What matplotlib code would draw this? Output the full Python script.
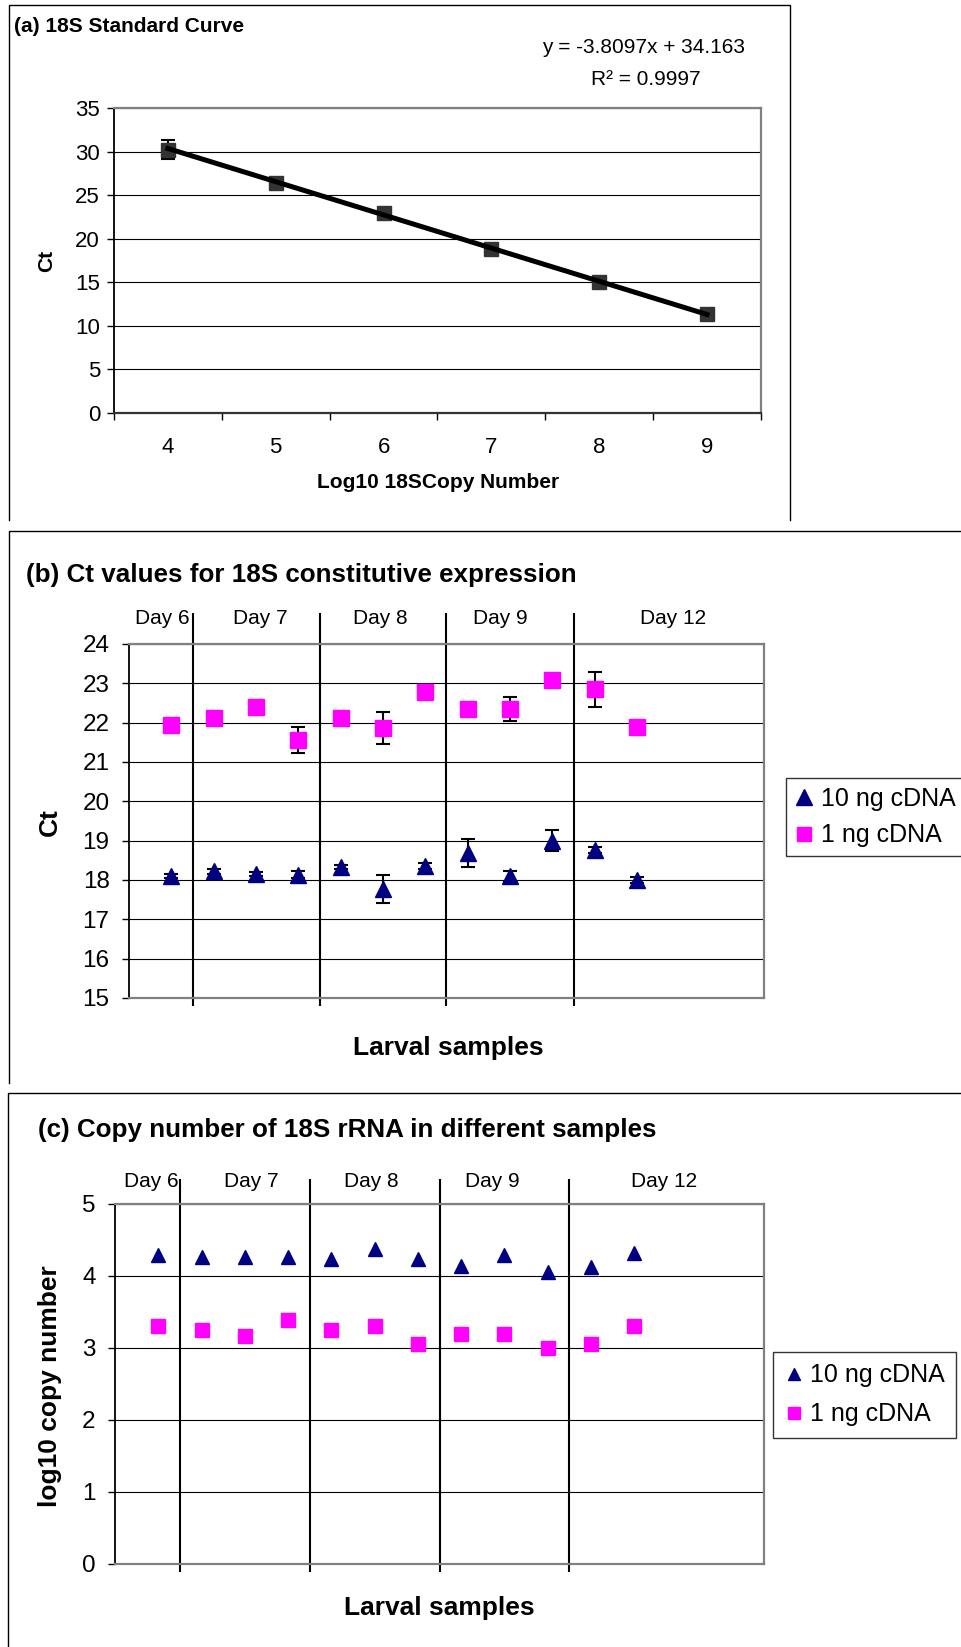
import numpy as np
import matplotlib.pyplot as plt
from matplotlib.lines import Line2D

plt.rcParams['font.family'] = ['Liberation Sans', 'DejaVu Sans']

# (a) standard curve
copy_log = [4, 5, 6, 7, 8, 9]
ct_std = [30.2, 26.4, 22.9, 18.8, 15.0, 11.35]
ct_std_err = [1.1, 0.3, 0.3, 0.3, 0.3, 0.3]
trend_slope = -3.8097
trend_icpt = 34.163
r2 = 0.9997

# (b) Ct values, 12 larval samples
samples = np.arange(1, 13)
ct_10ng = [18.10, 18.22, 18.15, 18.13, 18.32, 17.77, 18.36, 18.68, 18.09, 19.00, 18.77, 18.00]
err_10ng = [0.05, 0.06, 0.05, 0.09, 0.05, 0.35, 0.08, 0.36, 0.13, 0.26, 0.08, 0.08]
ct_1ng = [21.94, 22.12, 22.40, 21.55, 22.12, 21.86, 22.79, 22.35, 22.35, 23.09, 22.85, 21.89]
err_1ng = [0.05, 0.05, 0.05, 0.33, 0.05, 0.40, 0.05, 0.05, 0.30, 0.05, 0.45, 0.05]

# (c) log10 copy number
log_10ng = [4.29, 4.27, 4.27, 4.27, 4.24, 4.38, 4.23, 4.14, 4.29, 4.06, 4.12, 4.32]
log_1ng = [3.31, 3.25, 3.17, 3.39, 3.25, 3.31, 3.05, 3.20, 3.20, 3.00, 3.05, 3.31]

days = ['Day 6', 'Day 7', 'Day 8', 'Day 9', 'Day 12']
day_counts = [1, 3, 3, 3, 2]
series_names = ['10 ng cDNA', '1 ng cDNA']

# layout (pixels)
W, H = 962, 1647
def fx(p):
    return p / W
def fy(p):
    return 1 - p / H
def rect(l, t, r, b):
    return [fx(l), fy(b), (r - l) / W, (b - t) / H]

NAVY = '#000080'
MAG = '#FF00FF'
GRAY = '#808080'

fig = plt.figure(figsize=(W / 100, H / 100), dpi=100)

# panel frames
def frame_line(xs, ys):
    fig.add_artist(Line2D([fx(x) for x in xs], [fy(y) for y in ys],
                          color='black', lw=1.0, transform=fig.transFigure))
frame_line([9, 9, 790, 790], [520, 5, 5, 520])
frame_line([9, 9, 962], [1083, 531, 531])
frame_line([8, 8, 962], [1647, 1093, 1093])


def style_axes(ax, bottom_gray=True):
    for s in ['top', 'right']:
        ax.spines[s].set_color(GRAY)
        ax.spines[s].set_linewidth(1.6)
    ax.spines['left'].set_color('black')
    ax.spines['left'].set_linewidth(1.3)
    ax.spines['bottom'].set_color(GRAY if bottom_gray else '#333333')
    ax.spines['bottom'].set_linewidth(1.6)
    ax.yaxis.grid(True, color='black', lw=0.8)
    ax.set_axisbelow(True)


# ---------- (a) ----------
ax = fig.add_axes(rect(114, 108, 761, 413))
style_axes(ax, bottom_gray=False)
xs = np.array(copy_log)
idx = np.arange(1, len(xs) + 1)
ax.plot(xs, trend_slope * idx + trend_icpt, color='black', lw=3.6, zorder=4)
ax.errorbar(xs, ct_std, yerr=ct_std_err, fmt='s', color='#333333', ms=9.5,
            ecolor='black', elinewidth=1.5, capsize=5, capthick=1.5, zorder=3)
ax.set_xlim(3.5, 9.5)
ax.set_ylim(0, 35)
ax.set_yticks(range(0, 36, 5))
ax.set_xticks(copy_log)
ax.set_xticks(np.arange(3.5, 9.6, 1), minor=True)
ax.tick_params(axis='x', which='major', length=0, pad=17, labelsize=16)
ax.tick_params(axis='x', which='minor', length=5, width=1, direction='out')
ax.tick_params(axis='y', length=5, width=1, pad=5, labelsize=16)
fig.text(fx(14), fy(32), '(a) 18S Standard Curve', fontsize=15, fontweight='bold',
         ha='left', va='baseline')
fig.text(fx(644), fy(53), f'y = {trend_slope}x + {trend_icpt}', fontsize=15,
         ha='center', va='baseline')
fig.text(fx(646), fy(85), f'R² = {r2}', fontsize=15, ha='center', va='baseline')
fig.text(fx(47), fy(261), 'Ct', fontsize=15, fontweight='bold', rotation=90,
         ha='center', va='center')
fig.text(fx(438), fy(483), 'Log10 18SCopy Number', fontsize=15, fontweight='bold',
         ha='center', va='center')

bounds = np.cumsum(day_counts)[:-1] + 0.5


def sample_panel(ax, y10, y1, e10, e1, ylim, ystep, sep_top, day_y, day_x,
                 ms_tri, ms_sq):
    style_axes(ax)
    ax.set_xlim(0, 15)
    ax.set_ylim(*ylim)
    ax.set_yticks(np.arange(ylim[0], ylim[1] + 0.01, ystep))
    ax.set_xticks([])
    ax.tick_params(axis='y', length=5, width=1, pad=9, labelsize=17.5)
    below = ylim[0] - (ylim[1] - ylim[0]) * 0.022
    ax.vlines(bounds, below, sep_top, color='black', lw=1.5, clip_on=False, zorder=2)
    if e10 is not None:
        ax.errorbar(samples, y10, yerr=e10, fmt='none', ecolor='black',
                    elinewidth=1.5, capsize=5, capthick=1.5, zorder=2.5)
        ax.errorbar(samples, y1, yerr=e1, fmt='none', ecolor='black',
                    elinewidth=1.5, capsize=5, capthick=1.5, zorder=2.5)
    ax.plot(samples, y10, '^', color=NAVY, ms=ms_tri, ls='none', zorder=3)
    ax.plot(samples, y1, 's', color=MAG, ms=ms_sq, ls='none', zorder=3)
    for d, x in zip(days, day_x):
        ax.text(x, day_y, d, fontsize=15, ha='center', va='center', clip_on=False)


# ---------- (b) ----------
axb = fig.add_axes(rect(129, 644, 764, 998))
sample_panel(axb, ct_10ng, ct_1ng, err_10ng, err_1ng, (15, 24), 1,
             24.79, 24.66, [0.78, 3.1, 5.93, 8.78, 12.85], 11.5, 11)
fig.text(fx(26), fy(582), '(b) Ct values for 18S constitutive expression',
         fontsize=18.7, fontweight='bold', ha='left', va='baseline')
fig.text(fx(50), fy(822), 'Ct', fontsize=19, fontweight='bold', rotation=90,
         ha='center', va='center')
fig.text(fx(448), fy(1048), 'Larval samples', fontsize=19, fontweight='bold',
         ha='center', va='center')
hb = [Line2D([], [], marker='^', color=NAVY, ls='none', ms=11),
      Line2D([], [], marker='s', color=MAG, ls='none', ms=10.5)]
lb = axb.legend(hb, series_names, loc='upper left', bbox_to_anchor=(fx(786), fy(778)),
                bbox_transform=fig.transFigure, fontsize=18, frameon=True,
                fancybox=False, edgecolor='black', borderpad=0.35, borderaxespad=0,
                handlelength=0.75, handletextpad=0.3, labelspacing=0.5)
lb.get_frame().set_linewidth(1.0)

# ---------- (c) ----------
axc = fig.add_axes(rect(115, 1204, 764, 1564))
sample_panel(axc, log_10ng, log_1ng, None, None, (0, 5), 1,
             5.35, 5.31, [0.85, 3.14, 5.93, 8.73, 12.7], 10.5, 10)
fig.text(fx(38), fy(1137), '(c) Copy number of 18S rRNA in different samples',
         fontsize=18.7, fontweight='bold', ha='left', va='baseline')
fig.text(fx(50), fy(1386), 'log10 copy number', fontsize=19, fontweight='bold',
         rotation=90, ha='center', va='center')
fig.text(fx(439), fy(1608), 'Larval samples', fontsize=19, fontweight='bold',
         ha='center', va='center')
hc = [Line2D([], [], marker='^', color=NAVY, ls='none', ms=9),
      Line2D([], [], marker='s', color=MAG, ls='none', ms=9)]
lc = axc.legend(hc, series_names, loc='upper left', bbox_to_anchor=(fx(773), fy(1352)),
                bbox_transform=fig.transFigure, fontsize=18, frameon=True,
                fancybox=False, edgecolor='black', borderpad=0.45, borderaxespad=0,
                handlelength=0.75, handletextpad=0.3, labelspacing=0.6)
lc.get_frame().set_linewidth(1.0)

fig.savefig('out.png', dpi=100)
